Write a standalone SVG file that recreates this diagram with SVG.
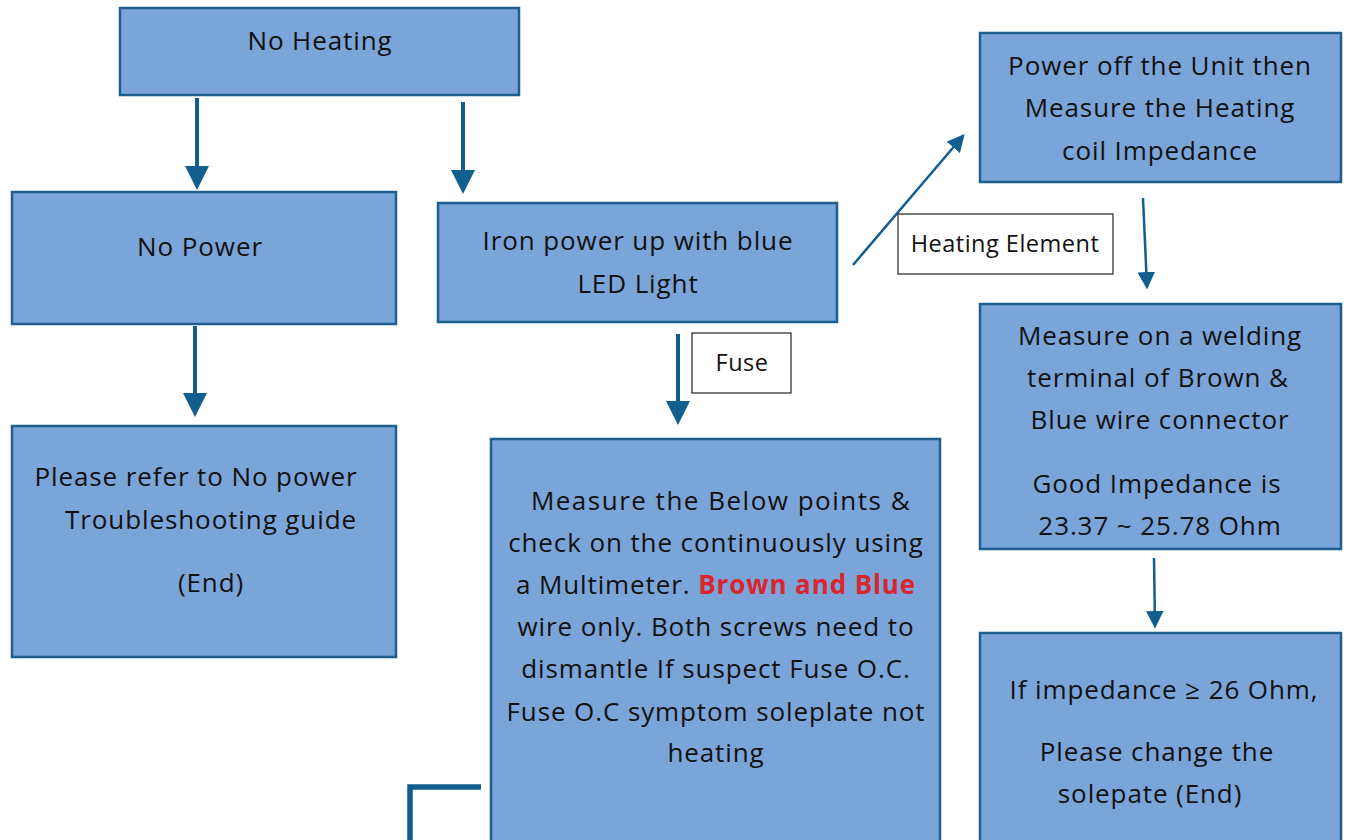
<svg xmlns="http://www.w3.org/2000/svg" width="1351" height="840" viewBox="0 0 1351 840">
<style>
.box{fill:#7BA4D8;stroke:#1E5F8E;stroke-width:2.5}
.lbl{fill:#fff;stroke:#222;stroke-width:1.2}
text{font-family:"Open Sans","Liberation Sans",Arial,sans-serif;font-size:26px;letter-spacing:0.9px;fill:#111;text-anchor:middle}
.red{fill:#D9262E;font-weight:bold}
.a{stroke:#125E8F;fill:none}
</style>
<defs>
<marker id="ah" markerWidth="6" markerHeight="6" refX="5" refY="3" orient="auto" markerUnits="strokeWidth"><path d="M0,0 L6,3 L0,6 z" fill="#125E8F"/></marker>
<marker id="ah2" markerWidth="7" markerHeight="7" refX="6" refY="3.5" orient="auto" markerUnits="strokeWidth"><path d="M0,0 L7,3.5 L0,7 z" fill="#125E8F"/></marker>
</defs>
<rect width="1351" height="840" fill="#fff"/>
<g id="connectors">
<line class="a" x1="197" y1="98" x2="197" y2="186" stroke-width="4" marker-end="url(#ah)"/>
<line class="a" x1="463" y1="102" x2="463" y2="190" stroke-width="4" marker-end="url(#ah)"/>
<line class="a" x1="195" y1="326" x2="195" y2="413" stroke-width="4" marker-end="url(#ah)"/>
<line class="a" x1="678" y1="334" x2="678" y2="421" stroke-width="4" marker-end="url(#ah)"/>
<line class="a" x1="853" y1="265" x2="963" y2="136" stroke-width="2.5" marker-end="url(#ah2)"/>
<line class="a" x1="1143" y1="198" x2="1147" y2="287" stroke-width="2.5" marker-end="url(#ah2)"/>
<line class="a" x1="1154" y1="558" x2="1155" y2="626" stroke-width="2.5" marker-end="url(#ah2)"/>
<polyline class="a" points="410,840 410,787 481,787" stroke-width="5.5"/>
</g>
<g id="n-noheating"><rect class="box" x="120" y="8" width="399" height="87"/><text x="320" y="50">No Heating</text></g>
<g id="n-nopower"><rect class="box" x="12" y="192" width="384" height="132"/><text x="200" y="256">No Power</text></g>
<g id="n-ironpower"><rect class="box" x="438" y="203" width="399" height="119"/><text x="638" y="250">Iron power up with blue</text><text x="638" y="293">LED Light</text></g>
<g id="n-refer"><rect class="box" x="12" y="426" width="384" height="231"/><text x="196" y="486">Please refer to No power</text><text x="211" y="529">Troubleshooting guide</text><text x="211" y="592">(End)</text></g>
<g id="n-measure"><rect class="box" x="491" y="439" width="449" height="410"/>
<text x="721" y="510" style="letter-spacing:1.5px">Measure the Below points &amp;</text>
<text x="716" y="552">check on the continuously using</text>
<text x="716" y="594">a Multimeter. <tspan class="red">Brown and Blue</tspan></text>
<text x="716" y="636">wire only. Both screws need to</text>
<text x="716" y="678">dismantle If suspect Fuse O.C.</text>
<text x="716" y="721">Fuse O.C symptom soleplate not</text>
<text x="716" y="762">heating</text></g>
<g id="n-poweroff"><rect class="box" x="980" y="33" width="361" height="149"/><text x="1160" y="75">Power off the Unit then</text><text x="1160" y="117">Measure the Heating</text><text x="1160" y="160">coil Impedance</text></g>
<g id="n-welding"><rect class="box" x="980" y="304" width="361" height="245"/><text x="1160" y="345">Measure on a welding</text><text x="1158" y="387">terminal of Brown &amp;</text><text x="1160" y="429">Blue wire connector</text><text x="1157" y="493">Good Impedance is</text><text x="1160" y="535">23.37 ~ 25.78 Ohm</text></g>
<g id="n-impedance"><rect class="box" x="980" y="633" width="361" height="217"/><text x="1164" y="699">If impedance ≥ 26 Ohm,</text><text x="1157" y="761">Please change the</text><text x="1150" y="803">solepate (End)</text></g>
<g id="l-heating"><rect class="lbl" x="898" y="214" width="215" height="60"/><text x="1005" y="252" style="font-size:23.5px;letter-spacing:0.5px">Heating Element</text></g>
<g id="l-fuse"><rect class="lbl" x="692" y="333" width="99" height="60"/><text x="742" y="371" style="font-size:23.5px;letter-spacing:0.5px">Fuse</text></g>
</svg>
